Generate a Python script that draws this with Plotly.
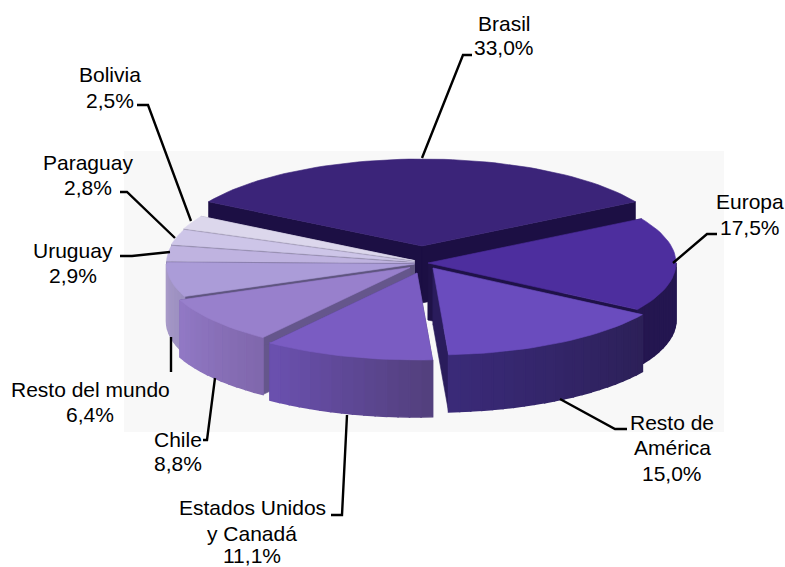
import math
import plotly.graph_objects as go

# ---- data ----
categories = ["Brasil", "Europa", "Resto de América", "Estados Unidos y Canadá", "Chile",
              "Resto del mundo", "Uruguay", "Paraguay", "Bolivia"]
values = [33.0, 17.5, 15.0, 11.1, 8.8, 6.4, 2.9, 2.8, 2.5]
value_labels = ["33,0%", "17,5%", "15,0%", "11,1%", "8,8%", "6,4%", "2,9%", "2,8%", "2,5%"]
label_lines = [["Brasil"], ["Europa"], ["Resto de", "América"], ["Estados Unidos", "y Canadá"], ["Chile"],
               ["Resto del mundo"], ["Uruguay"], ["Paraguay"], ["Bolivia"]]

# ---- styles ----
top_colors = ["#3b2479", "#4d2e9e", "#6a4cbe", "#7a5cc2", "#9880cc", "#ab9cd8", "#bfb3e0", "#cdc5e8", "#dcd7ec"]
rim_left = ["#1c0f44", "#241650", "#3a2a78", "#6a50ae", "#9178c4", "#a89ac8", "#bbb", "#bbb", "#bbb"]
rim_right = ["#1c0f44", "#241650", "#2c2058", "#53407e", "#8068ad", "#9b8fc0", "#bbb", "#bbb", "#bbb"]
face_colors = ["#1c0f44", "#1f1248", "#2a1c5c", "#4a3a78", "#65568c", "#5f5580", "#77708f", "#86809c", "#9a94ac"]
apex = [(422, 246), (428, 263), (433, 268), (417, 273), (410, 267.5), (414.5, 264), (414.5, 263), (414.5, 261.8), (414.5, 260.6)]
RX, RY, DEPTH = 248, 87, 57
START = -59.4
draw_order = [0, 8, 7, 6, 5, 4, 1, 2, 3]

label_pos = [(504, [23, 47]), (750, [201, 227]), (672, [422, 447, 473]), (252, [507, 533, 555]),
             (178, [439, 463]), (90, [389, 414]), (73, [250, 275]), (88, [162, 187]), (110, [74, 100])]
leaders = [[(422, 158), (463, 55), (472, 55)], [(673, 263), (707, 234), (717, 234)],
           [(560, 399), (615, 429), (627, 429)], [(347, 415), (342, 515), (331, 515)],
           [(215, 378), (207, 440), (203, 440)], [(171, 337), (171, 372)],
           [(170, 252), (132, 256), (120, 256)], [(175, 238), (127, 192), (120, 192)],
           [(191, 221), (148, 105), (137, 105)]]


def rim(cx, cy, t, dz=0):
    r = math.radians(t)
    return cx + RX * math.sin(r), cy - RY * math.cos(r) + dz


def poly(points, color, name, lw=0.6):
    xs = [p[0] for p in points] + [points[0][0]]
    ys = [p[1] for p in points] + [points[0][1]]
    return go.Scatter(x=xs, y=ys, mode="lines", fill="toself", fillcolor=color,
                      line=dict(color=color, width=lw), hoverinfo="text", text=name, showlegend=False)


def mix(a, b, f):
    def parse(c):
        c = c.lstrip("#")
        if len(c) == 3:
            c = "".join(ch * 2 for ch in c)
        return [int(c[i:i + 2], 16) for i in (0, 2, 4)]
    pa, pb = parse(a), parse(b)
    return "#%02x%02x%02x" % tuple(round(x + (y - x) * f) for x, y in zip(pa, pb))


starts = []
acc = START
for v in values:
    starts.append(acc)
    acc += v * 3.6

fig = go.Figure()
for i in draw_order:
    cx, cy = apex[i]
    a0, a1 = starts[i], starts[i] + values[i] * 3.6
    name = f"{categories[i]} {value_labels[i]}"
    for t in (a0, a1):
        x, y = rim(cx, cy, t)
        fig.add_trace(poly([(cx, cy), (x, y), (x, y + DEPTH), (cx, cy + DEPTH)], face_colors[i], name))
    lo, hi = max(a0, 90), min(a1, 270)
    if hi > lo:
        n = max(2, int((hi - lo) / 2.5))
        for k in range(n):
            t0 = lo + (hi - lo) * k / n
            t1 = lo + (hi - lo) * (k + 1) / n
            f = (n - 1 - k) / max(1, n - 1)
            col = mix(rim_left[i], rim_right[i], f)
            fig.add_trace(poly([rim(cx, cy, t0), rim(cx, cy, t1), rim(cx, cy, t1, DEPTH), rim(cx, cy, t0, DEPTH)],
                               col, name, lw=1.6))
    n = max(4, int((a1 - a0) / 2))
    fig.add_trace(poly([(cx, cy)] + [rim(cx, cy, a0 + (a1 - a0) * k / n) for k in range(n + 1)], top_colors[i], name))

shapes = [dict(type="rect", x0=124, y0=151, x1=724, y1=432, fillcolor="#f8f8f8", line_width=0, layer="below")]
for pts in leaders:
    path = "M" + " L".join(f"{x},{y}" for x, y in pts)
    shapes.append(dict(type="path", path=path, line=dict(color="black", width=2.4), layer="above"))

annotations = []
for i, (xc, ys) in enumerate(label_pos):
    for text, y in zip(label_lines[i] + [value_labels[i]], ys):
        annotations.append(dict(x=xc, y=y, text=text, showarrow=False, xanchor="center", yanchor="middle", borderpad=0,
                                font=dict(family="Liberation Sans, Arial", size=21, color="black")))

fig.update_layout(width=785, height=567, margin=dict(l=0, r=0, t=0, b=0), autosize=False,
                  paper_bgcolor="white", plot_bgcolor="white", showlegend=False,
                  xaxis=dict(range=[0, 785], visible=False, fixedrange=True),
                  yaxis=dict(range=[567, 0], visible=False, fixedrange=True),
                  shapes=shapes, annotations=annotations)
fig.write_html("out.html", config={"displayModeBar": False},
               post_script="document.body.style.margin='0';document.body.style.overflow='hidden';")
